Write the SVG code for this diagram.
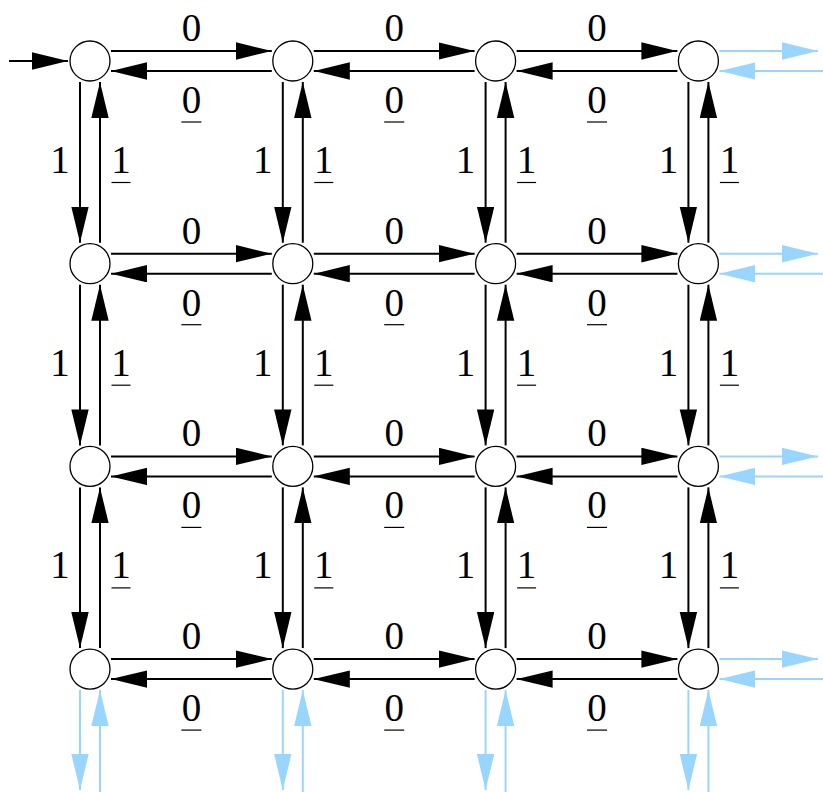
<svg xmlns="http://www.w3.org/2000/svg" width="823" height="792" viewBox="0 0 823 792">
<defs>
<marker id="ab" markerUnits="userSpaceOnUse" markerWidth="36" markerHeight="18" refX="36" refY="8.7" orient="auto"><path d="M0,0 L36,8.7 L0,17.4 z" fill="#000"/></marker>
<marker id="al" markerUnits="userSpaceOnUse" markerWidth="36" markerHeight="18" refX="36" refY="8.7" orient="auto"><path d="M0,0 L36,8.7 L0,17.4 z" fill="#99d6ff"/></marker>
</defs>
<style>
.e{stroke:#000;stroke-width:2;fill:none;marker-end:url(#ab)}
.b{stroke:#99d6ff;stroke-width:2;fill:none;marker-end:url(#al)}
.n{fill:#fff;stroke:#000;stroke-width:1.3}
.t{font-family:"Liberation Serif",serif;font-size:39px;text-anchor:middle;fill:#000}
.u{stroke:#000;stroke-width:1.2}
</style>
<g id="connectors">
<line class="e" x1="9" y1="61" x2="68" y2="61"/>
<!-- horizontal row 0 -->
<line class="e" x1="111" y1="51" x2="271.8" y2="51"/><line class="e" x1="271.8" y1="71" x2="111" y2="71"/>
<line class="e" x1="313.8" y1="51" x2="474.6" y2="51"/><line class="e" x1="474.6" y1="71" x2="313.8" y2="71"/>
<line class="e" x1="516.6" y1="51" x2="677.4" y2="51"/><line class="e" x1="677.4" y1="71" x2="516.6" y2="71"/>
<!-- row 1 -->
<line class="e" x1="111" y1="253.7" x2="271.8" y2="253.7"/><line class="e" x1="271.8" y1="273.7" x2="111" y2="273.7"/>
<line class="e" x1="313.8" y1="253.7" x2="474.6" y2="253.7"/><line class="e" x1="474.6" y1="273.7" x2="313.8" y2="273.7"/>
<line class="e" x1="516.6" y1="253.7" x2="677.4" y2="253.7"/><line class="e" x1="677.4" y1="273.7" x2="516.6" y2="273.7"/>
<!-- row 2 -->
<line class="e" x1="111" y1="456.4" x2="271.8" y2="456.4"/><line class="e" x1="271.8" y1="476.4" x2="111" y2="476.4"/>
<line class="e" x1="313.8" y1="456.4" x2="474.6" y2="456.4"/><line class="e" x1="474.6" y1="476.4" x2="313.8" y2="476.4"/>
<line class="e" x1="516.6" y1="456.4" x2="677.4" y2="456.4"/><line class="e" x1="677.4" y1="476.4" x2="516.6" y2="476.4"/>
<!-- row 3 -->
<line class="e" x1="111" y1="659.1" x2="271.8" y2="659.1"/><line class="e" x1="271.8" y1="679.1" x2="111" y2="679.1"/>
<line class="e" x1="313.8" y1="659.1" x2="474.6" y2="659.1"/><line class="e" x1="474.6" y1="679.1" x2="313.8" y2="679.1"/>
<line class="e" x1="516.6" y1="659.1" x2="677.4" y2="659.1"/><line class="e" x1="677.4" y1="679.1" x2="516.6" y2="679.1"/>
<!-- vertical col 0 -->
<line class="e" x1="80" y1="82" x2="80" y2="242.7"/><line class="e" x1="100" y1="242.7" x2="100" y2="82"/>
<line class="e" x1="80" y1="284.7" x2="80" y2="445.4"/><line class="e" x1="100" y1="445.4" x2="100" y2="284.7"/>
<line class="e" x1="80" y1="487.4" x2="80" y2="648.1"/><line class="e" x1="100" y1="648.1" x2="100" y2="487.4"/>
<!-- col 1 -->
<line class="e" x1="282.8" y1="82" x2="282.8" y2="242.7"/><line class="e" x1="302.8" y1="242.7" x2="302.8" y2="82"/>
<line class="e" x1="282.8" y1="284.7" x2="282.8" y2="445.4"/><line class="e" x1="302.8" y1="445.4" x2="302.8" y2="284.7"/>
<line class="e" x1="282.8" y1="487.4" x2="282.8" y2="648.1"/><line class="e" x1="302.8" y1="648.1" x2="302.8" y2="487.4"/>
<!-- col 2 -->
<line class="e" x1="485.6" y1="82" x2="485.6" y2="242.7"/><line class="e" x1="505.6" y1="242.7" x2="505.6" y2="82"/>
<line class="e" x1="485.6" y1="284.7" x2="485.6" y2="445.4"/><line class="e" x1="505.6" y1="445.4" x2="505.6" y2="284.7"/>
<line class="e" x1="485.6" y1="487.4" x2="485.6" y2="648.1"/><line class="e" x1="505.6" y1="648.1" x2="505.6" y2="487.4"/>
<!-- col 3 -->
<line class="e" x1="688.4" y1="82" x2="688.4" y2="242.7"/><line class="e" x1="708.4" y1="242.7" x2="708.4" y2="82"/>
<line class="e" x1="688.4" y1="284.7" x2="688.4" y2="445.4"/><line class="e" x1="708.4" y1="445.4" x2="708.4" y2="284.7"/>
<line class="e" x1="688.4" y1="487.4" x2="688.4" y2="648.1"/><line class="e" x1="708.4" y1="648.1" x2="708.4" y2="487.4"/>
<!-- blue right -->
<line class="b" x1="719.4" y1="51" x2="818" y2="51"/><line class="b" x1="823" y1="71" x2="719.4" y2="71"/>
<line class="b" x1="719.4" y1="253.7" x2="818" y2="253.7"/><line class="b" x1="823" y1="273.7" x2="719.4" y2="273.7"/>
<line class="b" x1="719.4" y1="456.4" x2="818" y2="456.4"/><line class="b" x1="823" y1="476.4" x2="719.4" y2="476.4"/>
<line class="b" x1="719.4" y1="659.1" x2="818" y2="659.1"/><line class="b" x1="823" y1="679.1" x2="719.4" y2="679.1"/>
<!-- blue bottom -->
<line class="b" x1="80" y1="690" x2="80" y2="790"/><line class="b" x1="100" y1="792" x2="100" y2="690"/>
<line class="b" x1="282.8" y1="690" x2="282.8" y2="790"/><line class="b" x1="302.8" y1="792" x2="302.8" y2="690"/>
<line class="b" x1="485.6" y1="690" x2="485.6" y2="790"/><line class="b" x1="505.6" y1="792" x2="505.6" y2="690"/>
<line class="b" x1="688.4" y1="690" x2="688.4" y2="790"/><line class="b" x1="708.4" y1="792" x2="708.4" y2="690"/>
</g>
<g id="labels">
<!-- horizontal labels -->
<text class="t" x="191.4" y="41">0</text><text class="t" x="191.4" y="113">0</text><line class="u" x1="181.4" y1="122" x2="201.4" y2="122"/>
<text class="t" x="394.2" y="41">0</text><text class="t" x="394.2" y="113">0</text><line class="u" x1="384.2" y1="122" x2="404.2" y2="122"/>
<text class="t" x="597" y="41">0</text><text class="t" x="597" y="113">0</text><line class="u" x1="587" y1="122" x2="607" y2="122"/>
<text class="t" x="191.4" y="243.7">0</text><text class="t" x="191.4" y="315.7">0</text><line class="u" x1="181.4" y1="324.7" x2="201.4" y2="324.7"/>
<text class="t" x="394.2" y="243.7">0</text><text class="t" x="394.2" y="315.7">0</text><line class="u" x1="384.2" y1="324.7" x2="404.2" y2="324.7"/>
<text class="t" x="597" y="243.7">0</text><text class="t" x="597" y="315.7">0</text><line class="u" x1="587" y1="324.7" x2="607" y2="324.7"/>
<text class="t" x="191.4" y="446.4">0</text><text class="t" x="191.4" y="518.4">0</text><line class="u" x1="181.4" y1="527.4" x2="201.4" y2="527.4"/>
<text class="t" x="394.2" y="446.4">0</text><text class="t" x="394.2" y="518.4">0</text><line class="u" x1="384.2" y1="527.4" x2="404.2" y2="527.4"/>
<text class="t" x="597" y="446.4">0</text><text class="t" x="597" y="518.4">0</text><line class="u" x1="587" y1="527.4" x2="607" y2="527.4"/>
<text class="t" x="191.4" y="649.1">0</text><text class="t" x="191.4" y="721.1">0</text><line class="u" x1="181.4" y1="730.1" x2="201.4" y2="730.1"/>
<text class="t" x="394.2" y="649.1">0</text><text class="t" x="394.2" y="721.1">0</text><line class="u" x1="384.2" y1="730.1" x2="404.2" y2="730.1"/>
<text class="t" x="597" y="649.1">0</text><text class="t" x="597" y="721.1">0</text><line class="u" x1="587" y1="730.1" x2="607" y2="730.1"/>
<!-- vertical labels -->
<text class="t" x="60" y="173">1</text><text class="t" x="121" y="173">1</text><line class="u" x1="111.5" y1="182.5" x2="130.5" y2="182.5"/>
<text class="t" x="60" y="375.7">1</text><text class="t" x="121" y="375.7">1</text><line class="u" x1="111.5" y1="385.2" x2="130.5" y2="385.2"/>
<text class="t" x="60" y="578.4">1</text><text class="t" x="121" y="578.4">1</text><line class="u" x1="111.5" y1="587.9" x2="130.5" y2="587.9"/>
<text class="t" x="262.8" y="173">1</text><text class="t" x="323.8" y="173">1</text><line class="u" x1="314.3" y1="182.5" x2="333.3" y2="182.5"/>
<text class="t" x="262.8" y="375.7">1</text><text class="t" x="323.8" y="375.7">1</text><line class="u" x1="314.3" y1="385.2" x2="333.3" y2="385.2"/>
<text class="t" x="262.8" y="578.4">1</text><text class="t" x="323.8" y="578.4">1</text><line class="u" x1="314.3" y1="587.9" x2="333.3" y2="587.9"/>
<text class="t" x="465.6" y="173">1</text><text class="t" x="526.6" y="173">1</text><line class="u" x1="517.1" y1="182.5" x2="536.1" y2="182.5"/>
<text class="t" x="465.6" y="375.7">1</text><text class="t" x="526.6" y="375.7">1</text><line class="u" x1="517.1" y1="385.2" x2="536.1" y2="385.2"/>
<text class="t" x="465.6" y="578.4">1</text><text class="t" x="526.6" y="578.4">1</text><line class="u" x1="517.1" y1="587.9" x2="536.1" y2="587.9"/>
<text class="t" x="668.4" y="173">1</text><text class="t" x="729.4" y="173">1</text><line class="u" x1="719.9" y1="182.5" x2="738.9" y2="182.5"/>
<text class="t" x="668.4" y="375.7">1</text><text class="t" x="729.4" y="375.7">1</text><line class="u" x1="719.9" y1="385.2" x2="738.9" y2="385.2"/>
<text class="t" x="668.4" y="578.4">1</text><text class="t" x="729.4" y="578.4">1</text><line class="u" x1="719.9" y1="587.9" x2="738.9" y2="587.9"/>
</g>
<g id="n00"><circle class="n" cx="90" cy="61" r="20"/></g>
<g id="n01"><circle class="n" cx="292.8" cy="61" r="20"/></g>
<g id="n02"><circle class="n" cx="495.6" cy="61" r="20"/></g>
<g id="n03"><circle class="n" cx="698.4" cy="61" r="20"/></g>
<g id="n10"><circle class="n" cx="90" cy="263.7" r="20"/></g>
<g id="n11"><circle class="n" cx="292.8" cy="263.7" r="20"/></g>
<g id="n12"><circle class="n" cx="495.6" cy="263.7" r="20"/></g>
<g id="n13"><circle class="n" cx="698.4" cy="263.7" r="20"/></g>
<g id="n20"><circle class="n" cx="90" cy="466.4" r="20"/></g>
<g id="n21"><circle class="n" cx="292.8" cy="466.4" r="20"/></g>
<g id="n22"><circle class="n" cx="495.6" cy="466.4" r="20"/></g>
<g id="n23"><circle class="n" cx="698.4" cy="466.4" r="20"/></g>
<g id="n30"><circle class="n" cx="90" cy="669.1" r="20"/></g>
<g id="n31"><circle class="n" cx="292.8" cy="669.1" r="20"/></g>
<g id="n32"><circle class="n" cx="495.6" cy="669.1" r="20"/></g>
<g id="n33"><circle class="n" cx="698.4" cy="669.1" r="20"/></g>
</svg>
